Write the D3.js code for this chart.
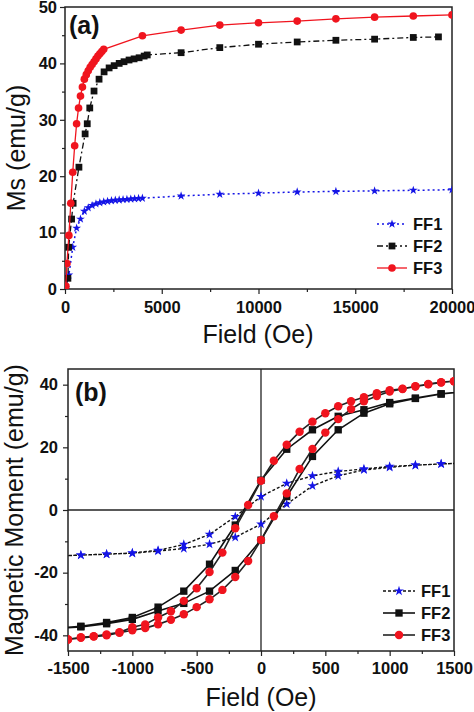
<!DOCTYPE html>
<html>
<head>
<meta charset="utf-8">
<script src="https://cdn.jsdelivr.net/npm/d3@7"></script>
<style>
  body { margin: 0; background: #fff; }
  svg { display: block; font-family: "Liberation Sans", Arial, sans-serif; }
  .axis text { font-size: 16.5px; font-weight: bold; fill: #111; font-family: "Liberation Sans", Arial, sans-serif; }
  .axis line { stroke: #222; stroke-width: 1.2; }
  .title { font-size: 25px; fill: #111; }
  .panel-label { font-size: 25px; font-weight: bold; fill: #111; }
  .legend text { font-size: 16.5px; font-weight: bold; fill: #111; }
</style>
</head>
<body>
<svg id="chart" width="474" height="712"></svg>
<script>
// ---------- Panel (a): Ms vs field ----------
const fieldA1 = [30, 200, 400, 600, 800, 1000, 1200, 1400, 1600, 1800, 2000, 2200, 2400, 2600, 2800, 3000, 3200, 3400, 3600, 3800, 4000, 6000, 8000, 10000, 12000, 14000, 16000, 18000, 20000];
const msA1 = [0.3, 2.5, 7.4, 10.8, 12.4, 13.8, 14.4, 14.8, 15.1, 15.3, 15.45, 15.55, 15.65, 15.75, 15.8, 15.85, 15.9, 15.95, 16.0, 16.05, 16.1, 16.5, 16.8, 17.0, 17.2, 17.3, 17.4, 17.5, 17.6];

const fieldA2 = [40, 150, 190, 340, 420, 720, 1040, 1150, 1280, 1500, 1760, 2020, 2280, 2540, 2800, 3050, 3310, 3570, 3830, 4090, 4250, 6000, 8000, 10000, 12000, 14000, 16000, 18000, 19300];
const msA2 = [0.3, 1.9, 7.4, 12.4, 15.2, 21.6, 27.5, 29.3, 32.1, 35.1, 37.2, 38.5, 39.2, 39.6, 40.0, 40.3, 40.6, 40.8, 41.0, 41.3, 41.5, 41.9, 42.8, 43.4, 43.8, 44.1, 44.3, 44.6, 44.7];

const fieldA3 = [40, 100, 200, 300, 400, 500, 600, 700, 800, 900, 1000, 1100, 1200, 1300, 1400, 1500, 1600, 1700, 1800, 1900, 2000, 4000, 6000, 8000, 10000, 12000, 14000, 16000, 18000, 20000];
const msA3 = [0.5, 4.5, 9.5, 15.2, 20.7, 25.4, 29.3, 32.1, 34.2, 35.8, 37.2, 38.0, 38.7, 39.3, 39.8, 40.3, 40.8, 41.3, 41.7, 42.1, 42.5, 44.9, 45.9, 46.8, 47.2, 47.5, 47.9, 48.2, 48.4, 48.6];

const xTicksA = [0, 5000, 10000, 15000, 20000];
const xMinorA = [2500, 7500, 12500, 17500];
const yTicksA = [0, 10, 20, 30, 40, 50];
const yMinorA = [5, 15, 25, 35, 45];

// ---------- Panel (b): hysteresis loops ----------
// fields in ascending order; descending-branch values listed from high field to low field
const fieldB200 = [-1600, -1400, -1200, -1000, -800, -600, -400, -200, 0, 200, 400, 600, 800, 1000, 1200, 1400, 1600];
const fieldB100 = [-1500, -1400, -1300, -1200, -1100, -1000, -900, -800, -700, -600, -500, -400, -300, -200, -100, 0, 100, 200, 300, 400, 500, 600, 700, 800, 900, 1000, 1100, 1200, 1300, 1400, 1500];

const ff1Desc = [15.0, 14.7, 14.3, 13.9, 13.1, 12.3, 10.9, 8.5, 4.3, -2.1, -7.8, -11.0, -12.9, -13.7, -14.1, -14.4, -14.7];
const ff1Asc = [-14.7, -14.4, -14.1, -13.8, -13.1, -12.3, -10.9, -8.7, -4.5, 1.9, 7.7, 10.9, 12.8, 13.6, 14.3, 14.7, 15.0];

const ff2Desc = [37.8, 37.1, 35.7, 34.3, 32.0, 29.9, 25.6, 19.4, 9.5, -4.8, -17.3, -25.9, -31.0, -34.3, -35.9, -37.1, -37.8];
const ff2Asc = [-37.8, -37.3, -36.3, -34.9, -32.2, -29.8, -25.9, -19.3, -9.6, 4.3, 17.1, 25.6, 30.9, 33.9, 35.6, 37.0, 37.8];

const ff3Desc = [41.1, 40.8, 40.2, 39.5, 38.7, 38.2, 37.3, 36.0, 34.7, 33.1, 30.9, 28.2, 25.0, 20.8, 15.7, 9.3, 1.6, -5.8, -13.6, -19.8, -25.0, -29.0, -32.3, -34.3, -36.5, -37.4, -39.0, -39.7, -40.3, -40.6, -41.3];
const ff3Asc = [-41.3, -40.8, -40.4, -40.0, -39.2, -38.4, -37.7, -36.5, -35.0, -33.3, -31.0, -28.5, -25.5, -21.4, -16.3, -9.6, -2.0, 5.3, 13.1, 19.5, 24.7, 29.0, 32.2, 34.7, 36.4, 37.8, 38.6, 39.4, 40.1, 40.7, 41.1];

const xTicksB = [-1500, -1000, -500, 0, 500, 1000, 1500];
const xMinorB = [-1250, -750, -250, 250, 750, 1250];
const yTicksB = [-40, -20, 0, 20, 40];
const yMinorB = [-30, -10, 10, 30];

const seriesNames = ['FF1', 'FF2', 'FF3'];

const BLUE = '#1414e6';
const RED = '#f0141e';
const BLACK = '#111';

const svg = d3.select('#chart');

/**
 * Frame, ticks and tick labels for one panel
 */
function drawAxes(x, y, cfg) {
  const [x0, x1] = x.range();
  const [y0, y1] = y.range();
  const fmt = d => String(d);

  const axisBox = svg.append('g');

  axisBox.append('g').attr('class', 'axis').attr('transform', `translate(0,${y0})`)
    .call(d3.axisBottom(x).tickValues(cfg.xMinor).tickSize(3).tickFormat(''))
    .call(g => g.select('.domain').remove());
  axisBox.append('g').attr('class', 'axis').attr('transform', `translate(0,${y0})`)
    .call(d3.axisBottom(x).tickValues(cfg.xTicks).tickSize(5).tickPadding(cfg.xPad).tickFormat(fmt))
    .call(g => g.select('.domain').remove());

  axisBox.append('g').attr('class', 'axis').attr('transform', `translate(${x0},0)`)
    .call(d3.axisLeft(y).tickValues(cfg.yMinor).tickSize(3).tickFormat(''))
    .call(g => g.select('.domain').remove());
  axisBox.append('g').attr('class', 'axis').attr('transform', `translate(${x0},0)`)
    .call(d3.axisLeft(y).tickValues(cfg.yTicks).tickSize(5).tickPadding(cfg.yPad).tickFormat(fmt))
    .call(g => g.select('.domain').remove());

  // box
  svg.append('rect')
    .attr('x', x0).attr('y', y1)
    .attr('width', x1 - x0).attr('height', y0 - y1)
    .attr('fill', 'none').attr('stroke', '#222').attr('stroke-width', 1.5);
}

function clipFor(id, x, y) {
  const [x0, x1] = x.range();
  const [y0, y1] = y.range();
  svg.append('clipPath').attr('id', id)
    .append('rect').attr('x', x0).attr('y', y1).attr('width', x1 - x0).attr('height', y0 - y1);
  return svg.append('g').attr('clip-path', `url(#${id})`);
}

function drawSeries(g, pts, x, y, s) {
  const line = d3.line().x(d => x(d[0])).y(d => y(d[1]));
  g.append('path')
    .datum(pts)
    .attr('d', line)
    .attr('fill', 'none')
    .attr('stroke', s.lineColor)
    .attr('stroke-width', s.lineWidth)
    .attr('stroke-dasharray', s.dash || null);

  const sym = d3.symbol().type(s.symbol).size(s.size);
  g.selectAll(null)
    .data(pts)
    .join('path')
    .attr('transform', d => `translate(${x(d[0])},${y(d[1])})`)
    .attr('d', sym)
    .attr('fill', s.color);
}

function drawLegend(items, cfg) {
  const lg = svg.append('g').attr('class', 'legend');
  items.forEach((s, i) => {
    const yy = cfg.y0 + i * cfg.step;
    lg.append('line')
      .attr('x1', cfg.x0).attr('x2', cfg.x1)
      .attr('y1', yy).attr('y2', yy)
      .attr('stroke', s.lineColor)
      .attr('stroke-width', s.lineWidth)
      .attr('stroke-dasharray', s.dash || null);
    lg.append('path')
      .attr('transform', `translate(${(cfg.x0 + cfg.x1) / 2},${yy})`)
      .attr('d', d3.symbol().type(s.symbol).size(s.size)())
      .attr('fill', s.color);
    lg.append('text')
      .attr('x', cfg.x1 + 6)
      .attr('y', yy)
      .attr('dy', '0.36em')
      .text(seriesNames[i]);
  });
}

// ================= Panel (a) =================
const xA = d3.scaleLinear().domain([0, 20000]).range([65, 452]);
const yA = d3.scaleLinear().domain([0, 50]).range([289, 7]);

drawAxes(xA, yA, { xTicks: xTicksA, xMinor: xMinorA, yTicks: yTicksA, yMinor: yMinorA, xPad: 7, yPad: 3 });

const stylesA = [
  { color: BLUE, lineColor: BLUE, lineWidth: 1.5, dash: '2,3', symbol: d3.symbolStar, size: 24 },
  { color: BLACK, lineColor: BLACK, lineWidth: 1.3, dash: '6,3,2,3', symbol: d3.symbolSquare, size: 46 },
  { color: RED, lineColor: RED, lineWidth: 1.3, dash: null, symbol: d3.symbolCircle, size: 46 }
];

const plotA = clipFor('clipA', xA, yA);
drawSeries(plotA, d3.zip(fieldA1, msA1), xA, yA, stylesA[0]);
drawSeries(plotA, d3.zip(fieldA2, msA2), xA, yA, stylesA[1]);
drawSeries(plotA, d3.zip(fieldA3, msA3), xA, yA, stylesA[2]);

drawLegend(stylesA, { x0: 377, x1: 407, y0: 224, step: 22 });

svg.append('text').attr('class', 'panel-label').attr('x', 69).attr('y', 34).text('(a)');
svg.append('text').attr('class', 'title')
  .attr('text-anchor', 'middle')
  .attr('x', 258).attr('y', 343)
  .text('Field (Oe)');
svg.append('text').attr('class', 'title')
  .attr('text-anchor', 'middle')
  .attr('transform', 'translate(25,148) rotate(-90)')
  .text('Ms (emu/g)');

// ================= Panel (b) =================
const xB = d3.scaleLinear().domain([-1500, 1500]).range([68, 454]);
const yB = d3.scaleLinear().domain([-45, 45]).range([651, 369]);

drawAxes(xB, yB, { xTicks: xTicksB, xMinor: xMinorB, yTicks: yTicksB, yMinor: yMinorB, xPad: 6, yPad: 5 });

// zero cross lines
svg.append('line')
  .attr('x1', xB(0)).attr('x2', xB(0)).attr('y1', yB(45)).attr('y2', yB(-45))
  .attr('stroke', '#222').attr('stroke-width', 1.3);
svg.append('line')
  .attr('x1', xB(-1500)).attr('x2', xB(1500)).attr('y1', yB(0)).attr('y2', yB(0))
  .attr('stroke', '#222').attr('stroke-width', 1.3);

const stylesB = [
  { color: BLUE, lineColor: BLACK, lineWidth: 1.4, dash: '3,2', symbol: d3.symbolStar, size: 30 },
  { color: BLACK, lineColor: BLACK, lineWidth: 1.6, dash: null, symbol: d3.symbolSquare, size: 54 },
  { color: RED, lineColor: '#222', lineWidth: 1.6, dash: null, symbol: d3.symbolCircle, size: 56 }
];

function loop(fields, desc, asc) {
  const down = d3.zip(fields.slice().reverse(), desc);
  const up = d3.zip(fields, asc);
  return down.concat(up);
}

const plotB = clipFor('clipB', xB, yB);
drawSeries(plotB, loop(fieldB200, ff1Desc, ff1Asc), xB, yB, stylesB[0]);
drawSeries(plotB, loop(fieldB200, ff2Desc, ff2Asc), xB, yB, stylesB[1]);
drawSeries(plotB, loop(fieldB100, ff3Desc, ff3Asc), xB, yB, stylesB[2]);

drawLegend(stylesB, { x0: 383, x1: 415, y0: 591, step: 22 });

svg.append('text').attr('class', 'panel-label').attr('x', 75).attr('y', 401).text('(b)');
svg.append('text').attr('class', 'title')
  .attr('text-anchor', 'middle')
  .attr('x', 261).attr('y', 706)
  .text('Field (Oe)');
svg.append('text').attr('class', 'title')
  .attr('text-anchor', 'middle')
  .attr('transform', 'translate(23,510) rotate(-90)')
  .text('Magnetic Moment (emu/g)');
</script>
</body>
</html>
